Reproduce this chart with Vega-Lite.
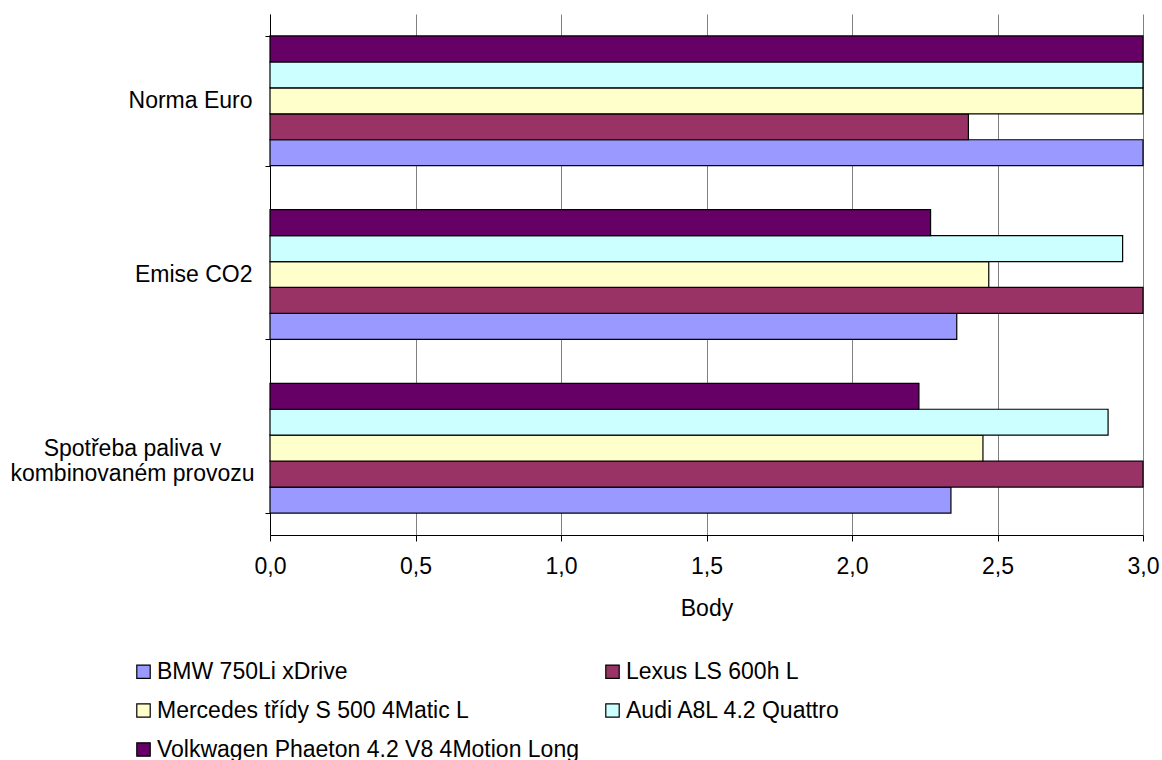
{
  "$schema": "https://vega.github.io/schema/vega-lite/v6.json",
  "autosize": {"type": "none"},
  "width": 873,
  "height": 521,
  "padding": {"left": 270, "top": 14, "right": 19, "bottom": 225},
  "background": "white",
  "config": {
    "view": {"stroke": null},
    "font": "Liberation Sans",
    "axis": {"labelFont": "Liberation Sans", "titleFont": "Liberation Sans", "labelColor": "black", "titleColor": "black", "titleFontWeight": "normal"},
    "legend": {"labelFont": "Liberation Sans", "labelColor": "black"}
  },
  "data": {
    "values": [
      {"kat": "Norma Euro", "auto": "BMW 750Li xDrive", "body": 3.0},
      {"kat": "Norma Euro", "auto": "Lexus LS 600h L", "body": 2.4},
      {"kat": "Norma Euro", "auto": "Mercedes třídy S 500 4Matic L", "body": 3.0},
      {"kat": "Norma Euro", "auto": "Audi A8L 4.2 Quattro", "body": 3.0},
      {"kat": "Norma Euro", "auto": "Volkwagen Phaeton 4.2 V8 4Motion Long", "body": 3.0},
      {"kat": "Emise CO2", "auto": "BMW 750Li xDrive", "body": 2.36},
      {"kat": "Emise CO2", "auto": "Lexus LS 600h L", "body": 3.0},
      {"kat": "Emise CO2", "auto": "Mercedes třídy S 500 4Matic L", "body": 2.47},
      {"kat": "Emise CO2", "auto": "Audi A8L 4.2 Quattro", "body": 2.93},
      {"kat": "Emise CO2", "auto": "Volkwagen Phaeton 4.2 V8 4Motion Long", "body": 2.27},
      {"kat": "Spotřeba paliva v kombinovaném provozu", "auto": "BMW 750Li xDrive", "body": 2.34},
      {"kat": "Spotřeba paliva v kombinovaném provozu", "auto": "Lexus LS 600h L", "body": 3.0},
      {"kat": "Spotřeba paliva v kombinovaném provozu", "auto": "Mercedes třídy S 500 4Matic L", "body": 2.45},
      {"kat": "Spotřeba paliva v kombinovaném provozu", "auto": "Audi A8L 4.2 Quattro", "body": 2.88},
      {"kat": "Spotřeba paliva v kombinovaném provozu", "auto": "Volkwagen Phaeton 4.2 V8 4Motion Long", "body": 2.23}
    ]
  },
  "mark": {"type": "bar", "stroke": "black", "strokeWidth": 1.2},
  "encoding": {
    "x": {
      "field": "body", "type": "quantitative",
      "scale": {"domain": [0, 3], "nice": false, "zero": true},
      "axis": {
        "title": "Body", "titleFontSize": 23, "titlePadding": 19,
        "values": [0, 0.5, 1, 1.5, 2, 2.5, 3],
        "labelExpr": "replace(format(datum.value, '.1f'), '.', ',')",
        "labelFontSize": 23, "labelPadding": 14,
        "grid": true, "gridColor": "#808080", "gridWidth": 1,
        "domainColor": "black", "tickColor": "black", "tickSize": 6,
        "labelFlush": false
      }
    },
    "y": {
      "field": "kat", "type": "nominal",
      "sort": ["Norma Euro", "Emise CO2", "Spotřeba paliva v kombinovaném provozu"],
      "scale": {"paddingInner": 0.253, "paddingOuter": 0.1265},
      "axis": {
        "title": null, "labelFontSize": 23, "labelLimit": 400,
        "labelPadding": {"condition": {"test": "datum.value == 'Spotřeba paliva v kombinovaném provozu'", "value": 133}, "value": 13},
        "labelAlign": {"condition": {"test": "datum.value == 'Spotřeba paliva v kombinovaném provozu'", "value": "center"}, "value": "right"},
        "labelExpr": "datum.value == 'Spotřeba paliva v kombinovaném provozu' ? ['Spotřeba paliva v', 'kombinovaném provozu'] : datum.value",
        "labelLineHeight": 25,
        "tickBand": "extent", "tickSize": 5, "tickColor": "black", "domainColor": "black",
        "grid": false
      }
    },
    "yOffset": {
      "field": "auto", "type": "nominal",
      "scale": {"domain": ["Volkwagen Phaeton 4.2 V8 4Motion Long", "Audi A8L 4.2 Quattro", "Mercedes třídy S 500 4Matic L", "Lexus LS 600h L", "BMW 750Li xDrive"]}
    },
    "color": {
      "field": "auto", "type": "nominal",
      "scale": {
        "domain": ["BMW 750Li xDrive", "Lexus LS 600h L", "Mercedes třídy S 500 4Matic L", "Audi A8L 4.2 Quattro", "Volkwagen Phaeton 4.2 V8 4Motion Long"],
        "range": ["#9999FF", "#993366", "#FFFFCC", "#CCFFFF", "#660066"]
      },
      "legend": {
        "title": null, "orient": "none", "legendX": -138, "legendY": 646, "padding": 0,
        "columns": 2, "direction": "horizontal",
        "symbolType": "square", "symbolSize": 180, "symbolStrokeColor": "black", "symbolStrokeWidth": 1.2,
        "labelFontSize": 23, "labelLimit": 600, "rowPadding": 15, "columnPadding": 22,
        "symbolOffset": 0, "labelOffset": 2, "gridAlign": "each"
      }
    }
  }
}
